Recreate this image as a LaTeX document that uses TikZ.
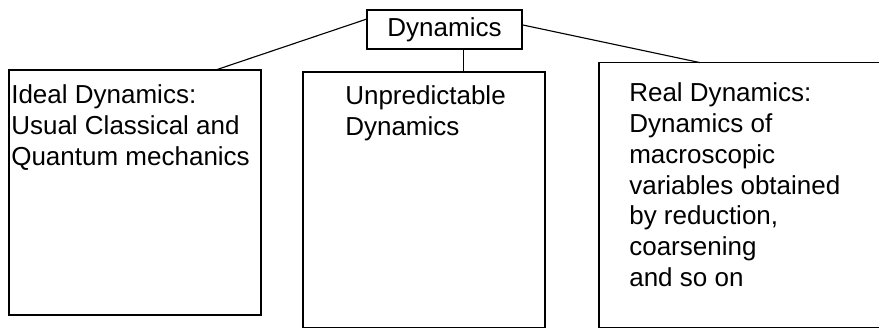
\documentclass[tikz,border=0pt]{standalone}
\usepackage{fontspec}
\setmainfont{Liberation Sans}
\usetikzlibrary{calc}
\tikzset{
  box/.style={draw,line width=0.8pt,inner sep=0pt,outer sep=0pt,anchor=north west},
  txt/.style={anchor=north west,inner sep=0pt,align=left,font=\fontsize{18.5}{21.9}\selectfont},
  link/.style={line width=0.8pt}
}
\begin{document}
\begin{tikzpicture}[x=1.0cm,y=1.0cm]
		\clip (0,0) rectangle (21.975,8.225);
		% boxes
		\node[box,minimum width=3.875cm,minimum height=0.975cm,font=\fontsize{18.5}{21.9}\selectfont] (dyn) at (9.175,7.975) {Dynamics};
		\node[box,minimum width=6.3cm,minimum height=6.125cm] (ideal) at (0.225,6.475) {};
		\node[box,minimum width=6.05cm,minimum height=6.395cm] (unpred) at (7.575,6.425) {};
		\node[box,minimum width=7.5cm,minimum height=6.63cm] (real) at (14.975,6.66) {};
		% texts
		\node[txt] (idealtxt) at ([xshift=0.05cm,yshift=-0.36cm]ideal.north west) {Ideal Dynamics:\\Usual Classical and\\Quantum mechanics};
		\node[txt] (unpredtxt) at ([xshift=1.05cm,yshift=-0.33cm]unpred.north west) {Unpredictable\\Dynamics};
		\node[txt] (realtxt) at ([xshift=0.75cm,yshift=-0.5cm]real.north west) {Real Dynamics:\\Dynamics of\\macroscopic\\variables obtained\\by reduction,\\coarsening\\and so on};
		% links
		\coordinate (dl) at ($(dyn.north west)!0.23!(dyn.south west)$);
		\coordinate (dr) at ($(dyn.north east)!0.38!(dyn.south east)$);
		\coordinate (dm) at ($(dyn.south west)!0.62!(dyn.south east)$);
		\coordinate (il) at ($(ideal.north west)!0.82!(ideal.north east)$);
		\coordinate (rl) at ([xshift=2.525cm]real.north west);
		\draw[link] (dl) -- (il);
		\draw[link] (dr) -- (rl);
		\draw[link] (dm) -- (dm |- unpred.north);
\end{tikzpicture}
\end{document}
